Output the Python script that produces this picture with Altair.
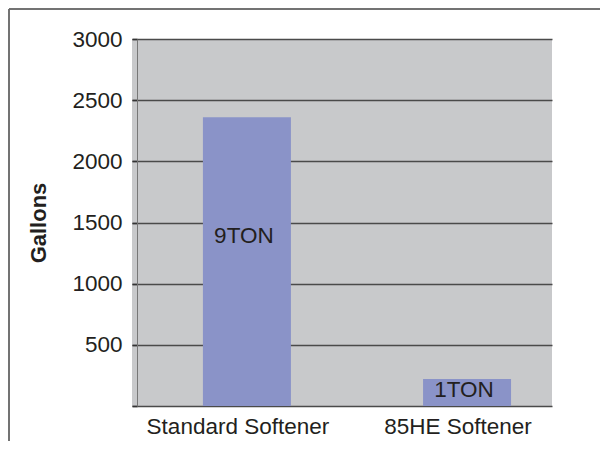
import altair as alt
import pandas as pd

categories = ["Standard Softener", "85HE Softener"]
gallons = [2360, 220]
labels = ["9TON", "1TON"]

df = pd.DataFrame({"category": categories, "gallons": gallons, "label": labels})

PLOT_W = 420
PLOT_H = 367
FONT = "Liberation Sans"
TEXT_COLOR = "#231f20"

x_enc = alt.X(
    "category:N",
    sort=categories,
    scale=alt.Scale(paddingInner=0.6, paddingOuter=0.254, align=0.634),
    axis=alt.Axis(
        title=None, labelAngle=0, domain=False, ticks=False, tickSize=0,
        labelPadding=9, labelOffset=-9, labelFontSize=22.5, labelFont=FONT,
        labelColor=TEXT_COLOR, labelLimit=400, labelOverlap=False,
    ),
)

bars = alt.Chart(df).mark_bar(color="#8a93c8", size=88).encode(
    x=x_enc,
    y=alt.Y(
        "gallons:Q",
        scale=alt.Scale(domain=[0, 3000], nice=False),
        axis=alt.Axis(
            title="Gallons", values=[0, 500, 1000, 1500, 2000, 2500, 3000],
            labelExpr="datum.value == 0 ? '' : datum.label",
            format="d", offset=-5, tickSize=5, tickColor="#333333", tickWidth=1.5,
            domainColor="#777777", domainWidth=1,
            grid=True, gridColor="#4a4a4a", gridWidth=1.5,
            labelFontSize=22.5, labelFont=FONT, labelColor=TEXT_COLOR, labelPadding=10,
            titleFontSize=22, titleFont=FONT, titleFontWeight="bold",
            titleColor=TEXT_COLOR, titlePadding=21,
        ),
    ),
)

text = alt.Chart(df).transform_calculate(
    label_y="datum.gallons * 0.59"
).mark_text(
    font=FONT, fontSize=22.5, color=TEXT_COLOR, baseline="middle", dx=-3
).encode(
    x=alt.X("category:N", sort=categories),
    y=alt.Y("label_y:Q"),
    text="label:N",
)

border_top = alt.Chart(df).mark_rule(color="#6a6a6a", strokeWidth=1.5).encode(
    x=alt.value(-123), x2=alt.value(PLOT_W + 60), y=alt.value(-30)
)
border_left = alt.Chart(df).mark_rule(color="#6a6a6a", strokeWidth=1.5).encode(
    x=alt.value(-123), y=alt.value(-30), y2=alt.value(PLOT_H + 60)
)

chart = alt.layer(bars, text, border_top, border_left).properties(
    width=PLOT_W, height=PLOT_H,
    autosize=alt.AutoSizeParams(type="none"),
    padding={"left": 124, "top": 31, "right": 48, "bottom": 35},
    background="white",
).configure_view(
    fill="#c8c9cb", stroke=None
)

chart.save("out.html", embed_options={"renderer": "svg", "actions": False})
